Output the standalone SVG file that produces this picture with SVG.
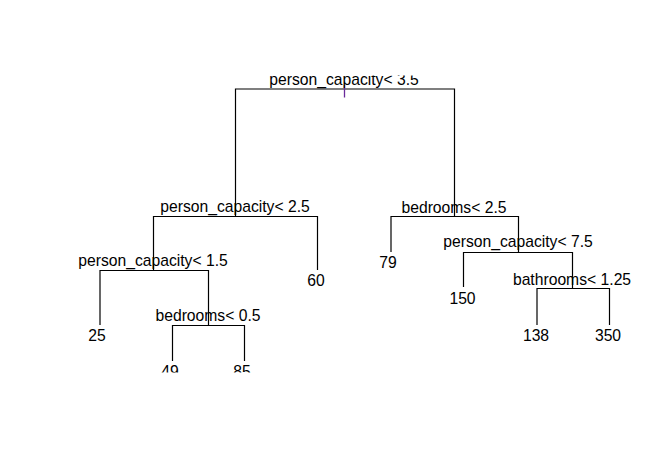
<svg xmlns="http://www.w3.org/2000/svg" width="670" height="470" viewBox="0 0 670 470">
<style>
.e{fill:none;stroke:#000;stroke-width:1.2}
text{font-family:"Liberation Sans",Arial,sans-serif;font-size:15.7px;fill:#000;text-anchor:middle}
</style>
<defs><clipPath id="plot"><rect x="0" y="75.5" width="670" height="297"/></clipPath></defs>
<rect width="670" height="470" fill="#fff"/>
<g clip-path="url(#plot)">
<g id="connectors">
<path class="e" d="M235.5 217V89H454.5V216"/>
<path class="e" d="M100 325V270.5H208.5V325"/>
<path class="e" d="M153.5 270.5V216.5H317.5V270"/>
<path class="e" d="M172.5 361V325.5H244.5V361"/>
<path class="e" d="M391 252V216.5H518.5V252"/>
<path class="e" d="M463.5 287V252.5H572.5V288"/>
<path class="e" d="M537 325V288.5H609.5V325"/>
<line x1="344.5" y1="85" x2="344.5" y2="97.5" stroke="#6a2a9a" stroke-width="1.3"/>
</g>
<g id="n1"><text x="344" y="85">person_capacity&lt; 3.5</text></g>
<g id="n2"><text x="235" y="212">person_capacity&lt; 2.5</text></g>
<g id="n3"><text x="454" y="213">bedrooms&lt; 2.5</text></g>
<g id="n4"><text x="153" y="266">person_capacity&lt; 1.5</text></g>
<g id="n5"><text x="316" y="286">60</text></g>
<g id="n6"><text x="388" y="268">79</text></g>
<g id="n7"><text x="518" y="247">person_capacity&lt; 7.5</text></g>
<g id="n8"><text x="97" y="341">25</text></g>
<g id="n9"><text x="208" y="321">bedrooms&lt; 0.5</text></g>
<g id="n10"><text x="462.5" y="304">150</text></g>
<g id="n11"><text x="572" y="285">bathrooms&lt; 1.25</text></g>
<g id="n12"><text x="170" y="377">49</text></g>
<g id="n13"><text x="242" y="377">85</text></g>
<g id="n14"><text x="536" y="341">138</text></g>
<g id="n15"><text x="608" y="341">350</text></g>
</g>
</svg>
